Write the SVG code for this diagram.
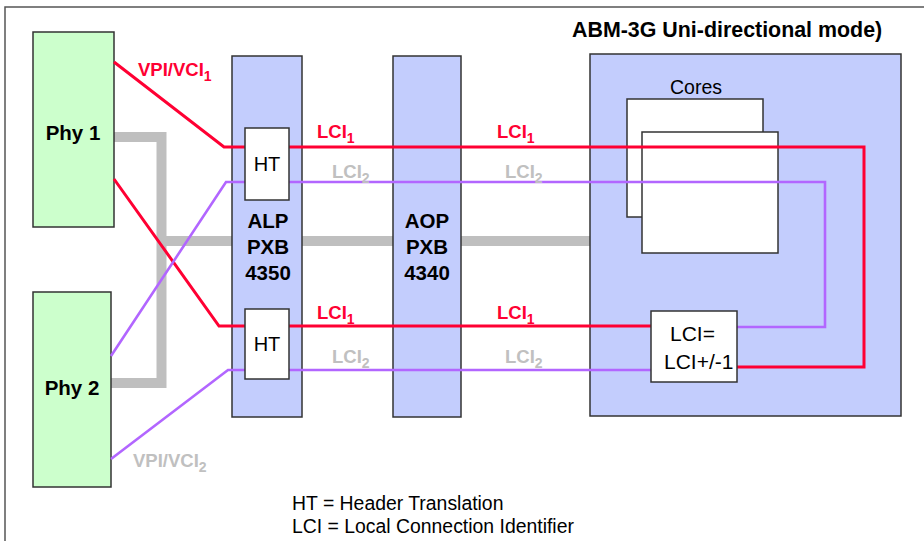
<svg xmlns="http://www.w3.org/2000/svg" width="924" height="541" viewBox="0 0 924 541">
<style>
.frame{fill:#fff;stroke:#555;stroke-width:1.5}
.phy{fill:#ccffcc;stroke:#333;stroke-width:1.5}
.blk{fill:#c3cdfd;stroke:#333;stroke-width:1.5}
.box{fill:#fff;stroke:#333;stroke-width:1.5}
.gray{fill:none;stroke:#bfbfbf;stroke-width:10}
.red{fill:none;stroke:#ff0033;stroke-width:3}
.pur{fill:none;stroke:#b266ff;stroke-width:2.6}
text{font-family:"Liberation Sans",Arial,sans-serif}
.b{font-weight:bold}
.big{font-size:20.5px;font-weight:bold;text-anchor:middle}
.ht{font-size:20px;text-anchor:middle}
.lr{font-size:18.5px;font-weight:bold;fill:#ff0033}
.lg{font-size:18.5px;font-weight:bold;fill:#c0c0c0}
.sub{font-size:14px}
</style>
<rect class="frame" x="5" y="7" width="940" height="600"/>
<g id="title"><text x="572" y="37" class="b" font-size="21.4">ABM-3G Uni-directional mode)</text></g>
<g id="gray-bus">
<polyline class="gray" points="114,137 161.5,137 161.5,383 111,383"/>
<line class="gray" x1="161.5" y1="241" x2="592" y2="241"/>
</g>
<g id="phy1"><rect class="phy" x="33" y="32" width="81" height="195"/><text class="big" x="73" y="140">Phy 1</text></g>
<g id="phy2"><rect class="phy" x="33" y="292" width="78" height="195"/><text class="big" x="72" y="395">Phy 2</text></g>
<g id="alp"><rect class="blk" x="232" y="56" width="70" height="361"/>
<text class="big" font-size="22" x="268" y="228">ALP</text><text class="big" font-size="22" x="268" y="254">PXB</text><text class="big" font-size="22" x="268" y="280">4350</text></g>
<g id="aop"><rect class="blk" x="393" y="56" width="68" height="361"/>
<text class="big" font-size="22" x="427" y="228">AOP</text><text class="big" font-size="22" x="427" y="254">PXB</text><text class="big" font-size="22" x="427" y="280">4340</text></g>
<g id="abm"><rect class="blk" x="590" y="54" width="311" height="362"/></g>
<g id="cores"><rect class="box" x="627" y="99" width="136" height="118"/><rect class="box" x="642" y="132" width="136" height="121"/>
<text x="696" y="94" font-size="19.5" text-anchor="middle">Cores</text></g>
<g id="connectors">
<polyline class="red" points="114,62 224,147 864,147 864,367 737,367"/>
<polyline class="red" points="114,179 219,326 651,326"/>
<polyline class="pur" points="111,356 226,182 825,182 825,327 737,327"/>
<polyline class="pur" points="111,459 228,370 651,370"/>
</g>
<g id="ht1"><rect class="box" x="245" y="128" width="44" height="72"/><text class="ht" x="267" y="171">HT</text></g>
<g id="ht2"><rect class="box" x="245" y="309" width="44" height="70"/><text class="ht" x="267" y="351">HT</text></g>
<g id="lcibox"><rect class="box" x="651" y="311" width="86" height="71"/>
<text x="670" y="341" font-size="21">LCI=</text><text x="664" y="369" font-size="21">LCI+/-1</text></g>
<g id="labels">
<text class="lr" x="138" y="76">VPI/VCI<tspan class="sub" dy="5">1</tspan></text>
<text class="lg" x="133" y="467">VPI/VCI<tspan class="sub" dy="5">2</tspan></text>
<text class="lr" x="317" y="138">LCI<tspan class="sub" dy="5">1</tspan></text>
<text class="lr" x="497" y="138">LCI<tspan class="sub" dy="5">1</tspan></text>
<text class="lg" x="332" y="178">LCI<tspan class="sub" dy="5">2</tspan></text>
<text class="lg" x="505" y="178">LCI<tspan class="sub" dy="5">2</tspan></text>
<text class="lr" x="317" y="319">LCI<tspan class="sub" dy="5">1</tspan></text>
<text class="lr" x="497" y="319">LCI<tspan class="sub" dy="5">1</tspan></text>
<text class="lg" x="332" y="363">LCI<tspan class="sub" dy="5">2</tspan></text>
<text class="lg" x="505" y="363">LCI<tspan class="sub" dy="5">2</tspan></text>
</g>
<g id="legend">
<text x="292" y="510" font-size="19.4">HT = Header Translation</text>
<text x="292" y="533" font-size="19.4">LCI = Local Connection Identifier</text>
</g>
</svg>
